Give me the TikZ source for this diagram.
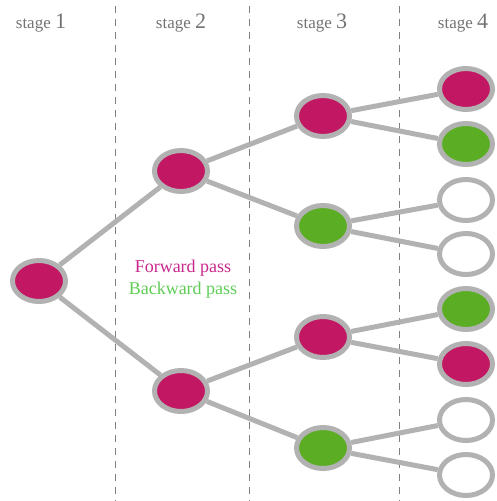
\documentclass[tikz,border=0pt]{standalone}
\usepackage{fontspec}
\setmainfont{Liberation Serif}
\usetikzlibrary{shapes.geometric}
\definecolor{mag}{RGB}{194,24,100}
\definecolor{grn}{RGB}{91,174,36}
\definecolor{brd}{RGB}{178,178,178}
\definecolor{lbl}{RGB}{115,115,115}
\definecolor{fwd}{RGB}{200,40,140}
\definecolor{bwd}{RGB}{95,205,85}
\tikzset{
  st/.style={ellipse, draw=brd, line width=5pt, minimum width=53pt, minimum height=41pt, inner sep=0pt},
  mg/.style={st, fill=mag},
  gn/.style={st, fill=grn},
  wt/.style={st, fill=white},
  edge/.style={draw=brd, line width=5pt},
  sep/.style={draw=gray, line width=0.8pt, dash pattern=on 7pt off 6pt},
  hdr/.style={text=lbl, font=\fontsize{17}{19}\selectfont, anchor=base},
  leg/.style={font=\fontsize{18}{20}\selectfont}
}
\newcommand{\bignum}[1]{{\fontsize{22}{22}\selectfont #1}}
\begin{document}
\begin{tikzpicture}[x=1pt,y=-1pt]
\useasboundingbox (0,0) rectangle (496,501);
% separators
\coordinate (s1t) at (115,6); \coordinate (s1b) at (115,501);
\coordinate (s2t) at (249,6); \coordinate (s2b) at (249,501);
\coordinate (s3t) at (399,6); \coordinate (s3b) at (399,501);
\draw[sep] (s1t) -- (s1b);
\draw[sep] (s2t) -- (s2b);
\draw[sep] (s3t) -- (s3b);
% headers
\node[hdr] (h1) at (41,28) {stage \bignum{1}};
\node[hdr] (h2) at (181,28) {stage \bignum{2}};
\node[hdr] (h3) at (322,28) {stage \bignum{3}};
\node[hdr] (h4) at (463,28) {stage \bignum{4}};
% legend
\node[text=fwd, leg] (lf) at (183,268) {Forward pass};
\node[text=bwd, leg] (lb) at (183,290) {Backward pass};
% nodes
\node[mg] (r) at (39,281) {};
\node[mg] (a) at (181,171) {};
\node[mg] (b) at (181,391) {};
\node[mg] (a1) at (323,116) {};
\node[gn] (a2) at (323,226) {};
\node[mg] (b1) at (323,337) {};
\node[gn] (b2) at (323,448) {};
\node[mg] (c1) at (466,89) {};
\node[gn] (c2) at (466,144) {};
\node[wt] (c3) at (466,200) {};
\node[wt] (c4) at (466,254) {};
\node[gn] (c5) at (466,309) {};
\node[mg] (c6) at (466,364) {};
\node[wt] (c7) at (466,420) {};
\node[wt] (c8) at (466,475) {};
% edges
\path[edge] (r) -- (a);
\path[edge] (r) -- (b);
\path[edge] (a) -- (a1);
\path[edge] (a) -- (a2);
\path[edge] (b) -- (b1);
\path[edge] (b) -- (b2);
\path[edge] (a1) -- (c1);
\path[edge] (a1) -- (c2);
\path[edge] (a2) -- (c3);
\path[edge] (a2) -- (c4);
\path[edge] (b1) -- (c5);
\path[edge] (b1) -- (c6);
\path[edge] (b2) -- (c7);
\path[edge] (b2) -- (c8);
\end{tikzpicture}
\end{document}
